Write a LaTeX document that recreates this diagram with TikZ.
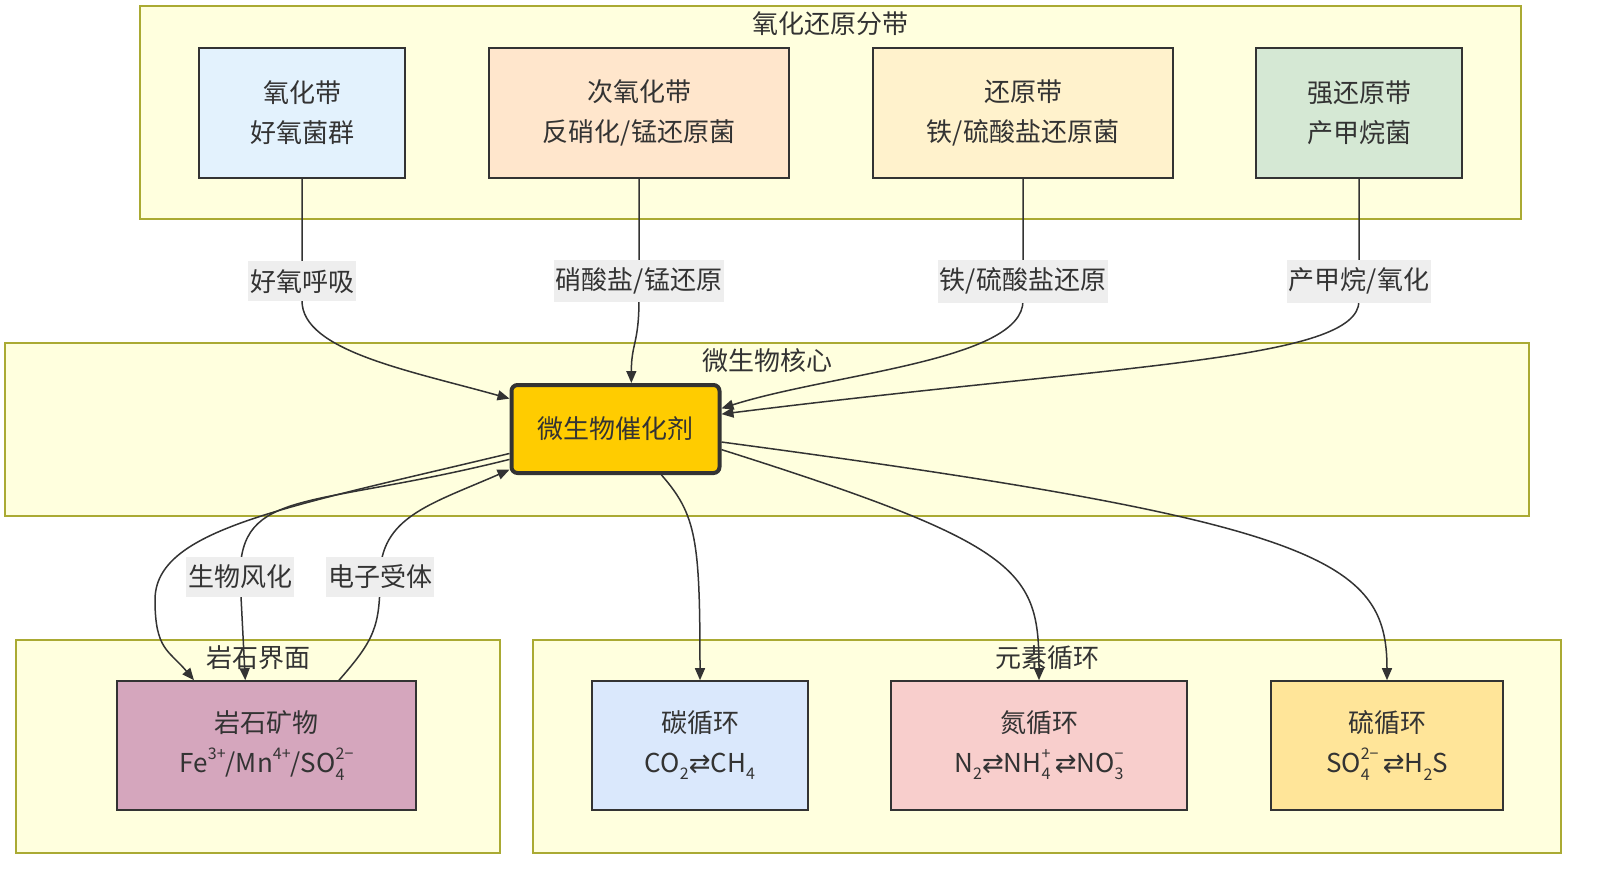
\documentclass[tikz,border=0pt]{standalone}
\usepackage{fontspec}
\setmainfont{Noto Sans CJK SC}
\newfontfamily\symfont{DejaVu Sans}
\usetikzlibrary{arrows.meta}

\definecolor{zonefill}{HTML}{FFFFDE}
\definecolor{zoneline}{HTML}{AAAA33}
\definecolor{ink}{HTML}{333333}
\definecolor{taggray}{HTML}{EEEEEE}
\definecolor{oxfill}{HTML}{E3F2FD}
\definecolor{suboxfill}{HTML}{FFE6CC}
\definecolor{redfill}{HTML}{FFF2CC}
\definecolor{sredfill}{HTML}{D5E8D4}
\definecolor{catfill}{HTML}{FFCC00}
\definecolor{rockfill}{HTML}{D5A6BD}
\definecolor{carbfill}{HTML}{DAE8FC}
\definecolor{nitrfill}{HTML}{F8CECC}
\definecolor{sulffill}{HTML}{FFE599}

\newcommand{\chemion}[2]{\rlap{\raisebox{-0.5ex}{\fontsize{8}{8}\selectfont #1}}\raisebox{0.95ex}{\fontsize{8}{8}\selectfont #2}}
\newcommand{\chemsup}[1]{\raisebox{0.95ex}{\fontsize{8}{8}\selectfont #1}}
\newcommand{\chemsub}[1]{\raisebox{-0.5ex}{\fontsize{8}{8}\selectfont #1}}
\newcommand{\eqarr}{{\symfont ⇄}}

\begin{document}
\begin{tikzpicture}[x=0.5pt,y=-0.5pt,
  zone/.style={draw=zoneline,fill=zonefill,line width=0.8pt},
  zonetitle/.style={text=ink,font=\fontsize{13}{16}\selectfont},
  box/.style={draw=ink,line width=0.8pt,align=center,text=ink,font=\fontsize{13}{20}\selectfont},
  tag/.style={fill=taggray,inner xsep=1pt,inner ysep=4pt,text=ink,font=\fontsize{13}{16}\selectfont},
  flow/.style={draw=ink,line width=0.75pt,-{Triangle[length=6pt,width=5pt]}}]
\useasboundingbox (0,0) rectangle (1597,874);

\draw[zone] (140,6) rectangle (1521,219);
\draw[zone] (5,343) rectangle (1529,516);
\draw[zone] (16,640) rectangle (500,853);
\draw[zone] (533,640) rectangle (1561,853);
\node[zonetitle] (tZone) at (830,24) {氧化还原分带};
\node[zonetitle] (tCore) at (767,361) {微生物核心};
\node[zonetitle] (tRock) at (258,658) {岩石界面};
\node[zonetitle] (tCyc) at (1047,658) {元素循环};

\node[box,fill=oxfill,minimum width=103pt,minimum height=65pt] (ox) at (302,113) {氧化带\\好氧菌群};
\node[box,fill=suboxfill,minimum width=150pt,minimum height=65pt] (subox) at (639,113) {次氧化带\\反硝化/锰还原菌};
\node[box,fill=redfill,minimum width=150pt,minimum height=65pt] (red) at (1023,113) {还原带\\铁/硫酸盐还原菌};
\node[box,fill=sredfill,minimum width=103pt,minimum height=65pt] (sred) at (1359,113) {强还原带\\产甲烷菌};

\node[box,fill=catfill,line width=2pt,rounded corners=3pt,minimum width=104pt,minimum height=44pt] (cat) at (615.5,429) {微生物催化剂};

\node[box,fill=rockfill,minimum width=149.5pt,minimum height=64.5pt] (rock) at (266.5,745.5) {岩石矿物\\Fe\chemsup{3+}/Mn\chemsup{4+}/SO\chemion{4}{2−}};
\node[box,fill=carbfill,minimum width=108pt,minimum height=64.5pt] (carb) at (700,745.5) {碳循环\\CO\chemsub{2}\eqarr CH\chemsub{4}};
\node[box,fill=nitrfill,minimum width=148pt,minimum height=64.5pt] (nitr) at (1039,745.5) {氮循环\\N\chemsub{2}\eqarr NH\chemion{4}{+}\,\eqarr NO\chemion{3}{−}};
\node[box,fill=sulffill,minimum width=116pt,minimum height=64.5pt] (sulf) at (1387,745.5) {硫循环\\SO\chemion{4}{2−}\,\eqarr H\chemsub{2}S};

\draw[flow] (ox.south) -- node[tag,pos=.84] (lAer) {好氧呼吸} ++(0,122) .. controls +(0,50) and +(-100,-28) .. (cat.164);
\draw[flow] (subox.south) -- node[tag,pos=.85] (lNit) {硝酸盐/锰还原} ++(0,120) .. controls +(0,45) and +(0,-40) .. (cat.71);
\draw[flow] (red.south) -- node[tag,pos=.84] (lFe) {铁/硫酸盐还原} ++(0,122) .. controls +(0,60) and +(110,-35) .. (cat.11);
\draw[flow] (sred.south) -- node[tag,pos=.84] (lMe) {产甲烷/氧化} ++(0,122) .. controls +(0,60) and +(400,-50) .. (cat.8);

\draw[flow] (cat.193) .. controls +(-230,55) and +(0,-70) .. (155,600) .. controls +(0,50) and +(-25,-30) .. (rock.138);
\draw[flow] (cat.196) .. controls +(-200,50) and +(0,-90) .. (240,577) node[tag] (lWea) {生物风化} -- (rock.108);
\draw[flow] (rock.42) .. controls +(35,-40) and +(0,50) .. (380,577) node[tag] (lAcc) {电子受体} .. controls +(0,-60) and +(-80,35) .. (cat.201);

\draw[flow] (cat.-45) .. controls +(35,40) and +(0,-140) .. (carb.north);
\draw[flow] (cat.-11) .. controls +(300,95) and +(0,-110) .. (nitr.north);
\draw[flow] (cat.-7) .. controls +(600,80) and +(0,-120) .. (sulf.north);
\end{tikzpicture}
\end{document}
